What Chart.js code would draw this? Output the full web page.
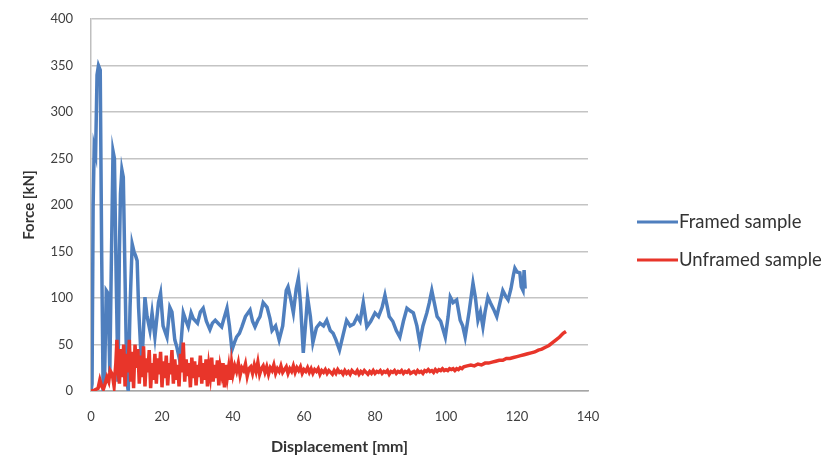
<!DOCTYPE html>
<html>
<head>
<meta charset="utf-8">
<script src="https://cdn.jsdelivr.net/npm/chart.js@4/dist/chart.umd.min.js"></script>
<style>
    html, body { margin: 0; padding: 0; background: #fff; }
    #wrap { width: 839px; height: 461px; position: relative; }
</style>
</head>
<body>
<div id="wrap"><canvas id="forceChart"></canvas></div>
<script>
// 数据
const seriesNames = ['Framed sample', 'Unframed sample'];

const framedX = [0, 0.3, 0.6, 0.9, 1.3, 1.7, 2.1, 2.6, 3.0, 3.4, 3.8, 4.3, 4.8, 5.3, 5.7, 6.2, 6.6, 7.1, 7.6, 8.0,
    8.3, 8.7, 9.1, 9.6, 10.1, 10.5, 11.0, 11.6, 12.1, 12.6, 13.0, 13.4, 13.8, 14.2, 14.6, 15.2, 15.8, 16.6, 17.2, 18.0,
    19.0, 19.6, 20.3, 21.4, 22.2, 22.8, 23.6, 24.2, 25.0, 26.0, 26.8, 27.4, 28.2, 28.8, 30.0, 30.8, 31.6, 32.5, 33.5, 34.2,
    35.0, 36.0, 36.8, 37.6, 38.3, 39.0, 39.7, 40.4, 41.0, 41.8, 42.5, 43.5, 44.8, 45.5, 46.2, 47.0, 47.6, 48.5, 49.6, 50.4,
    51.0, 52.0, 53.0, 54.0, 55.0, 55.5, 56.2, 57.0, 57.8, 58.4, 59.0, 59.8, 60.4, 61.0, 61.8, 62.5, 63.5, 64.5, 65.5, 66.4,
    67.4, 68.2, 69.0, 70.0, 71.0, 72.0, 73.0, 74.0, 75.0, 75.8, 76.7, 77.7, 78.8, 80.0, 81.0, 82.0, 82.8, 83.5, 84.0, 85.0,
    86.0, 87.0, 88.0, 89.0, 90.0, 90.8, 91.8, 92.6, 93.5, 94.6, 95.3, 96.0, 96.7, 97.5, 98.5, 99.8, 100.6, 101.2, 102.0, 103.0,
    104.0, 104.7, 105.4, 106.5, 107.6, 108.3, 109.0, 109.7, 110.4, 111.0, 111.8, 112.5, 113.4, 114.3, 115.2, 116.0, 116.8, 117.5, 118.3, 119.0,
    119.4, 120.0, 120.8, 121.2, 121.7, 122.0, 122.3];
const framedY = [0, 8, 200, 262, 255, 340, 350, 345, 150, 5, 10, 108, 105, 20, 130, 258, 250, 120, 10, 150,
    212, 238, 230, 120, 10, 0, 90, 158, 150, 145, 140, 90, 60, 30, 50, 101, 80, 65, 84, 58,
    95, 105, 70, 58, 90, 85, 55, 47, 33, 84, 75, 69, 84, 78, 73, 85, 89, 75, 66, 73,
    76, 72, 69, 80, 89, 70, 44, 52, 58, 62, 69, 80, 87, 75, 69, 76, 80, 95, 90, 78,
    65, 70, 55, 70, 108, 112, 100, 84, 110, 121, 95, 41, 70, 101, 80, 52, 68, 73, 70, 76,
    65, 62, 55, 44, 60, 76, 70, 72, 80, 75, 95, 69, 75, 84, 80, 90, 103, 90, 80, 75,
    65, 58, 75, 89, 86, 84, 70, 52, 70, 84, 95, 108, 95, 80, 75, 58, 80, 101, 95, 98,
    76, 70, 58, 85, 116, 100, 76, 85, 69, 85, 101, 95, 88, 80, 95, 108, 102, 98, 110, 125,
    132, 128, 127, 112, 108, 130, 110];

const unframedX = [0, 1, 2, 2.5, 3, 3.5, 4, 4.5, 5, 5.4, 6, 6.5, 7, 7.3, 7.7, 8, 8.4, 8.8, 9.2, 9.6,
    10, 10.4, 10.8, 11.2, 11.6, 12, 12.4, 12.8, 13.2, 13.6, 14, 14.4, 14.8, 15.2, 15.6, 16, 16.4, 16.8, 17.2, 17.6,
    18, 18.4, 18.8, 19.2, 19.6, 20, 20.4, 20.8, 21.2, 21.6, 22, 22.4, 22.8, 23.2, 23.6, 24, 24.4, 24.8, 25.2, 25.6,
    26, 26.4, 26.8, 27.2, 27.6, 28, 28.4, 28.8, 29.2, 29.6, 30, 30.4, 30.8, 31.2, 31.6, 32, 32.4, 32.8, 33.2, 33.6,
    34, 34.4, 34.8, 35.2, 35.6, 36, 36.4, 36.8, 37.2, 37.6, 38, 38.4, 38.8, 39.2, 39.6,
    40, 40.5, 41, 41.5, 42, 42.5, 43, 43.5, 44, 44.5, 45, 45.5, 46, 46.5, 47, 47.5, 48, 48.5, 49, 49.5,
    50, 50.5, 51, 51.5, 52, 52.5, 53, 53.5, 54, 54.5, 55, 55.5, 56, 56.5, 57, 57.5, 58, 58.5, 59, 59.5,
    60, 60.5, 61, 61.5, 62, 62.5, 63, 63.5, 64, 64.5, 65, 65.5, 66, 66.5, 67, 67.5, 68, 68.5, 69, 69.5,
    70, 70.5, 71, 71.5, 72, 72.5, 73, 73.5, 74, 74.5, 75, 75.5, 76, 76.5, 77, 77.5, 78, 78.5, 79, 79.5,
    80, 80.5, 81, 81.5, 82, 82.5, 83, 83.5, 84, 84.5, 85, 85.5, 86, 86.5, 87, 87.5, 88, 88.5, 89, 89.5,
    90, 90.5, 91, 91.5, 92, 92.5, 93, 93.5, 94, 94.5, 95, 95.5, 96, 96.5, 97, 97.5, 98, 98.5, 99, 99.5,
    100, 100.5, 101, 101.5, 102, 102.5, 103, 103.5, 104, 104.5, 105,
    106, 107, 108, 109, 110, 111, 112, 113, 114, 115, 116, 117, 118, 119, 120, 121, 122, 123, 124,
    125, 126, 127, 128, 129, 130, 131, 132, 133, 133.8];
const unframedY = [0, 1, 3, 12, 5, 2, 8, 15, 10, 22, 18, 5, 30, 55, 20, 8, 45, 15, 50, 5,
    40, 20, 55, 10, 42, 3, 50, 25, 45, 8, 38, 15, 48, 5, 35, 20, 44, 3, 30, 12,
    40, 8, 35, 18, 42, 4, 32, 14, 38, 6, 30, 18, 44, 8, 34, 12, 28, 5, 40, 20,
    52, 10, 34, 16, 30, 4, 36, 14, 32, 6, 28, 15, 38, 8, 30, 12, 34, 5, 27, 16,
    36, 10, 28, 14, 33, 6, 26, 18, 30, 4, 28, 15, 26, 12, 30,
    18, 27, 21, 30, 17, 25, 22, 29, 16, 24, 26, 19, 28, 21, 31, 18, 24, 27, 20, 26,
    18, 25, 22, 28, 19, 24, 21, 27, 20, 23, 26, 19, 24, 21, 27, 20, 25, 22, 26, 19,
    23, 21, 25, 20, 24, 19, 23, 21, 24, 18, 22, 20, 23, 19, 22, 20, 18, 22, 19, 23,
    20, 21, 18, 22, 19, 21, 18, 22, 20, 19, 22, 18, 21, 19, 22, 20, 18, 21, 19, 22,
    19, 21, 20, 22, 19, 21, 20, 22, 18, 21, 20, 22, 19, 21, 20, 22, 19, 21, 20, 22,
    19, 20, 21, 19, 22, 20, 21, 19, 22, 21, 23, 21, 22, 20, 23, 21, 23, 22, 24, 22,
    23, 22, 24, 23, 24, 22, 24, 23, 25, 24, 26,
    27, 28, 27, 29, 28, 30, 30, 31, 32, 33, 33, 35, 35, 36, 37, 38, 39, 40, 41,
    42, 44, 45, 47, 49, 52, 55, 58, 62, 64];

const xTicks = [0, 20, 40, 60, 80, 100, 120, 140];
const yTicks = [0, 50, 100, 150, 200, 250, 300, 350, 400];

const colors = ['#4F7FBE', '#E8352A'];

// 右侧图例
const sideLegend = {
    id: 'sideLegend',
    afterDraw(chart) {
        const ctx = chart.ctx;
        const rows = [222, 260];
        ctx.save();
        ctx.font = '18.5px Lato';
        ctx.fillStyle = '#333';
        ctx.textBaseline = 'middle';
        chart.data.datasets.forEach((ds, i) => {
            const y = rows[i];
            ctx.strokeStyle = ds.borderColor;
            ctx.lineWidth = 3;
            ctx.beginPath();
            ctx.moveTo(637, y);
            ctx.lineTo(678, y);
            ctx.stroke();
            ctx.fillText(ds.label, 679, y);
        });
        ctx.restore();
    }
};

const forceChart = new Chart(document.getElementById('forceChart'), {
    type: 'line',
    data: {
        datasets: [{
            label: seriesNames[0],
            data: framedX.map((x, i) => ({x: x, y: framedY[i]})),
            borderColor: colors[0],
            borderWidth: 3.5,
            pointRadius: 0,
            tension: 0,
            order: 2
        }, {
            label: seriesNames[1],
            data: unframedX.map((x, i) => ({x: x, y: unframedY[i]})),
            borderColor: colors[1],
            borderWidth: 3.5,
            pointRadius: 0,
            tension: 0,
            order: 1
        }]
    },
    options: {
        responsive: true,
        maintainAspectRatio: false,
        animation: false,
        layout: {
            padding: {left: 0, right: 251, top: 19, bottom: 0}
        },
        plugins: {
            legend: {display: false},
            tooltip: {enabled: false}
        },
        scales: {
            x: {
                type: 'linear',
                min: 0,
                max: 140,
                afterFit(scale) { scale.height = 70; },
                afterBuildTicks(scale) { scale.ticks = xTicks.map(v => ({value: v})); },
                grid: {display: false, drawTicks: false},
                border: {display: true, color: '#A6A6A6', width: 1.5},
                ticks: {
                    padding: 18,
                    color: '#404040',
                    font: {family: 'Lato', size: 13}
                },
                title: {
                    display: true,
                    text: 'Displacement [mm]',
                    color: '#333',
                    font: {family: 'Lato', size: 16, weight: 'bold'},
                    padding: {top: 0, bottom: 5}
                }
            },
            y: {
                min: 0,
                max: 400,
                afterFit(scale) {
                    scale.width = 91;
                    // 去掉刻度标签带来的上下留白
                    scale.paddingTop = 0;
                    scale.paddingBottom = 0;
                },
                afterBuildTicks(scale) { scale.ticks = yTicks.map(v => ({value: v})); },
                grid: {color: '#C4C4C4', lineWidth: 1.5, drawTicks: false},
                border: {display: true, color: '#BFBFBF', width: 1.5},
                ticks: {
                    padding: 18,
                    color: '#404040',
                    font: {family: 'Lato', size: 13}
                },
                title: {
                    display: true,
                    text: 'Force [kN]',
                    color: '#333',
                    font: {family: 'Lato', size: 15, weight: 'bold'},
                    padding: {top: 20, bottom: 0}
                }
            }
        }
    },
    plugins: [sideLegend]
});
</script>
</body>
</html>
